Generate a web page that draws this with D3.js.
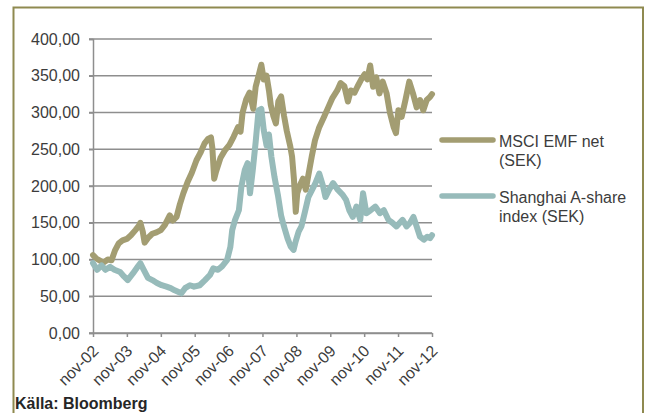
<!DOCTYPE html>
<html>
<head>
<meta charset="utf-8">
<script src="https://cdn.jsdelivr.net/npm/d3@7/dist/d3.min.js"></script>
<style>
  html, body { margin: 0; padding: 0; background: #fff; }
  svg { display: block; font-family: "Liberation Sans", Arial, sans-serif; }
</style>
</head>
<body>
<svg id="chart" width="647" height="413"></svg>
<script>
// MSCI EMF net (SEK): date, index level
const msciDates = ["2002-11-01","2002-12-10","2003-01-20","2003-02-25","2003-04-10","2003-05-20","2003-06-25","2003-08-05","2003-09-15","2003-11-01","2003-12-15","2004-02-01","2004-03-10","2004-03-25","2004-04-20","2004-05-10","2004-06-20","2004-08-01","2004-09-15","2004-11-01","2004-12-15","2005-02-05","2005-03-10","2005-04-20","2005-05-25","2005-07-01","2005-08-15","2005-10-01","2005-11-20","2006-01-01","2006-02-15","2006-03-25","2006-04-25","2006-05-10","2006-05-30","2006-06-20","2006-08-05","2006-09-20","2006-11-10","2006-12-25","2007-02-10","2007-03-10","2007-04-01","2007-05-10","2007-06-15","2007-07-25","2007-08-20","2007-09-20","2007-10-20","2007-11-15","2007-12-15","2008-01-10","2008-01-30","2008-02-25","2008-03-25","2008-04-20","2008-05-20","2008-06-20","2008-07-20","2008-08-25","2008-09-15","2008-10-05","2008-10-25","2008-11-10","2008-12-05","2009-01-10","2009-02-10","2009-03-10","2009-04-15","2009-05-20","2009-07-05","2009-08-25","2009-10-10","2009-11-25","2010-01-15","2010-02-20","2010-04-01","2010-05-10","2010-06-10","2010-07-20","2010-08-20","2010-10-01","2010-11-05","2010-12-05","2011-01-05","2011-02-05","2011-03-10","2011-04-15","2011-05-20","2011-07-01","2011-08-05","2011-09-15","2011-10-10","2011-11-05","2011-12-10","2012-01-20","2012-03-01","2012-04-10","2012-05-20","2012-06-25","2012-07-30","2012-09-05","2012-10-10","2012-11-01"];
const msciValues = [106,101,98,96,100,99,112,122,126,128,133,140,146,150,138,123,130,135,137,140,147,160,153,158,175,190,205,218,235,245,258,264,266,252,210,220,238,248,256,267,280,274,300,318,327,305,335,350,365,345,350,330,310,296,285,315,322,296,275,255,240,210,165,190,200,210,195,215,240,262,280,294,307,320,330,340,336,315,330,327,335,345,352,345,364,335,348,326,342,326,300,280,272,303,294,317,342,326,307,317,303,317,321,325];

// Shanghai A-share index (SEK): date, index level
const shanghaiDates = ["2002-11-01","2002-12-15","2003-02-01","2003-03-15","2003-05-05","2003-06-20","2003-08-20","2003-10-01","2003-11-10","2004-01-05","2004-02-25","2004-03-25","2004-05-01","2004-06-15","2004-08-01","2004-09-20","2004-11-10","2005-01-01","2005-02-15","2005-03-30","2005-06-10","2005-07-20","2005-09-10","2005-10-25","2005-12-25","2006-02-20","2006-04-15","2006-05-20","2006-07-10","2006-08-25","2006-10-15","2006-11-20","2006-12-10","2007-01-10","2007-02-20","2007-03-20","2007-04-25","2007-05-25","2007-06-20","2007-07-20","2007-08-20","2007-09-20","2007-10-20","2007-11-15","2007-12-15","2008-01-10","2008-02-05","2008-03-10","2008-04-15","2008-05-20","2008-06-20","2008-07-30","2008-08-30","2008-10-01","2008-10-25","2008-11-25","2008-12-25","2009-02-01","2009-03-10","2009-04-20","2009-05-25","2009-07-05","2009-08-15","2009-09-10","2009-10-20","2009-12-01","2010-01-20","2010-03-15","2010-04-20","2010-05-25","2010-07-01","2010-08-10","2010-09-20","2010-10-20","2010-11-25","2011-01-10","2011-03-01","2011-04-20","2011-06-01","2011-07-20","2011-09-01","2011-10-15","2011-11-20","2011-12-20","2012-02-01","2012-03-10","2012-04-15","2012-05-20","2012-06-25","2012-08-05","2012-09-10","2012-10-10","2012-11-01"];
const shanghaiValues = [95,86,92,86,90,86,83,77,72,81,90,95,86,75,72,68,65,63,61,58,54,61,65,63,65,72,79,88,86,91,99,117,140,154,167,200,222,231,190,222,260,303,305,276,255,270,240,212,188,160,145,128,118,113,125,138,145,165,185,195,204,217,200,185,195,204,195,188,181,167,158,172,154,190,163,167,172,163,167,154,150,145,150,154,145,150,158,145,131,127,131,129,133];

const yTicks = [0, 50, 100, 150, 200, 250, 300, 350, 400];
const xTickDates = ["2002-11-01","2003-11-01","2004-11-01","2005-11-01","2006-11-01","2007-11-01","2008-11-01","2009-11-01","2010-11-01","2011-11-01","2012-11-01"];
const seriesNames = ["MSCI EMF net (SEK)", "Shanghai A-share index (SEK)"];
const legendLines = [["MSCI EMF net", "(SEK)"], ["Shanghai A-share", "index (SEK)"]];
const sourceText = "Källa: Bloomberg";

const colors = ["#a39d72", "#97bbba"];
const parse = d3.timeParse("%Y-%m-%d");

const series = [
  msciDates.map((d, i) => ({ date: parse(d), value: msciValues[i] })),
  shanghaiDates.map((d, i) => ({ date: parse(d), value: shanghaiValues[i] }))
];

const svg = d3.select("#chart");

// outer frame
svg.append("rect")
  .attr("x", 13.5).attr("y", 7.5)
  .attr("width", 629.5).attr("height", 430)
  .attr("fill", "#fff")
  .attr("stroke", "#8f8a50")
  .attr("stroke-width", 2);

const x = d3.scaleTime()
  .domain([parse(xTickDates[0]), parse(xTickDates[xTickDates.length - 1])])
  .range([93, 432]);
const y = d3.scaleLinear().domain([0, 400]).range([333, 39]);

const fmtY = v => v.toFixed(2).replace(".", ",");
const fmtX = d => "nov-" + d3.timeFormat("%y")(d);

// horizontal gridlines
svg.append("g")
  .selectAll("line")
  .data(yTicks)
  .join("line")
  .attr("x1", 89).attr("x2", 432)
  .attr("y1", d => y(d)).attr("y2", d => y(d))
  .attr("stroke", "#8e8e8e")
  .attr("stroke-width", 1.5);

// y axis
const yAxis = svg.append("g")
  .attr("transform", "translate(93,0)")
  .call(d3.axisLeft(y).tickValues(yTicks).tickFormat(fmtY).tickSize(4).tickPadding(9));
yAxis.select(".domain").attr("stroke", "#8e8e8e").attr("stroke-width", 1.5);
yAxis.selectAll(".tick line").attr("stroke", "#8e8e8e").attr("stroke-width", 1.5);
yAxis.selectAll(".tick text")
  .attr("fill", "#3c3c3c")
  .style("font-size", "16px")
  .style("font-family", "'Liberation Sans', Arial, sans-serif");

// x axis
const xAxis = svg.append("g")
  .attr("transform", "translate(0,333)")
  .call(d3.axisBottom(x).tickValues(xTickDates.map(parse)).tickFormat(fmtX).tickSize(4).tickSizeOuter(0));
xAxis.select(".domain").attr("stroke", "#8e8e8e").attr("stroke-width", 1.5);
xAxis.selectAll(".tick line").attr("stroke", "#8e8e8e").attr("stroke-width", 1.5);
xAxis.selectAll(".tick text")
  .attr("fill", "#3c3c3c")
  .style("font-size", "16px")
  .style("font-family", "'Liberation Sans', Arial, sans-serif")
  .attr("text-anchor", "end")
  .attr("y", 0).attr("dy", 0)
  .attr("transform", "translate(6,19) rotate(-45)");

// series lines
const line = d3.line().x(d => x(d.date)).y(d => y(d.value));
svg.append("g")
  .selectAll("path")
  .data(series)
  .join("path")
  .attr("d", line)
  .attr("fill", "none")
  .attr("stroke", (d, i) => colors[i])
  .attr("stroke-width", 6)
  .attr("stroke-linejoin", "round")
  .attr("stroke-linecap", "round");

// legend
const legend = svg.append("g");
const legendY = [140, 196];
legendLines.forEach((lines, i) => {
  legend.append("line")
    .attr("x1", 442).attr("x2", 493)
    .attr("y1", legendY[i]).attr("y2", legendY[i])
    .attr("stroke", colors[i])
    .attr("stroke-width", 5.5)
    .attr("stroke-linecap", "round");
  const t = legend.append("text")
    .attr("x", 499).attr("y", legendY[i] + 6.5)
    .attr("fill", "#3c3c3c")
    .style("font-size", "16px");
  lines.forEach((s, j) => {
    t.append("tspan").attr("x", 499).attr("dy", j === 0 ? 0 : 19).text(s);
  });
  t.append("title").text(seriesNames[i]);
});

// source note
svg.append("text")
  .attr("x", 15).attr("y", 409)
  .attr("fill", "#262626")
  .style("font-size", "16px")
  .style("font-weight", "bold")
  .text(sourceText);
</script>
</body>
</html>
